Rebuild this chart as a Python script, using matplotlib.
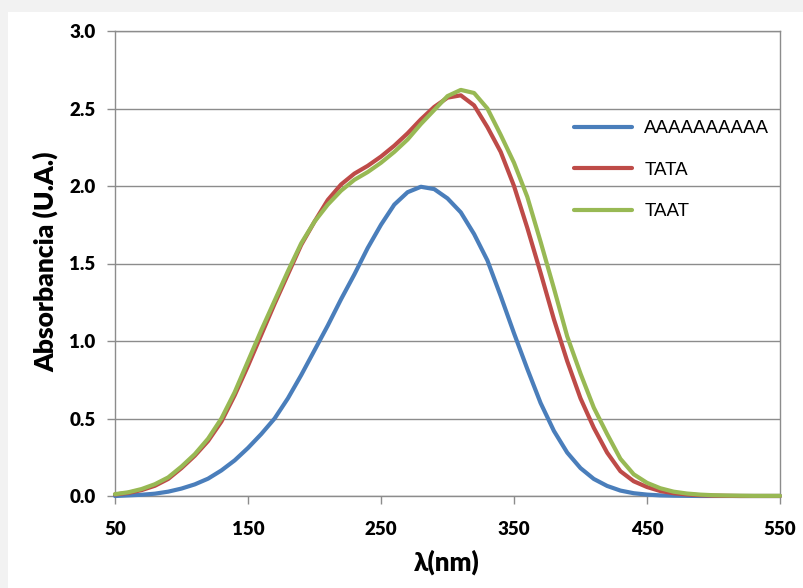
import matplotlib
matplotlib.use("Agg")
import matplotlib.pyplot as plt
from matplotlib.patches import Rectangle

# Wavelength grid (nm) and absorbance of each sequence
wavelength = list(range(50, 551, 10))

abs_aaaa = [0.000, 0.004, 0.008, 0.015, 0.028, 0.048, 0.075, 0.112, 0.165, 0.230,
            0.310, 0.400, 0.500, 0.630, 0.780, 0.940, 1.100, 1.270, 1.430, 1.600,
            1.750, 1.880, 1.960, 1.995, 1.980, 1.920, 1.830, 1.690, 1.520, 1.290,
            1.050, 0.820, 0.600, 0.420, 0.280, 0.180, 0.110, 0.065, 0.035, 0.018,
            0.009, 0.004, 0.002, 0.001, 0.000, 0.000, 0.000, 0.000, 0.000, 0.000,
            0.000]

abs_tata = [0.010, 0.020, 0.038, 0.066, 0.110, 0.180, 0.260, 0.355, 0.480, 0.650,
            0.840, 1.040, 1.240, 1.430, 1.620, 1.770, 1.910, 2.010, 2.080, 2.130,
            2.190, 2.260, 2.340, 2.430, 2.510, 2.570, 2.585, 2.520, 2.380, 2.220,
            2.000, 1.730, 1.440, 1.140, 0.870, 0.630, 0.440, 0.280, 0.160, 0.095,
            0.058, 0.032, 0.018, 0.010, 0.005, 0.002, 0.001, 0.000, 0.000, 0.000,
            0.000]

abs_taat = [0.012, 0.024, 0.045, 0.076, 0.120, 0.190, 0.270, 0.370, 0.500, 0.670,
            0.870, 1.070, 1.260, 1.450, 1.630, 1.770, 1.880, 1.970, 2.040, 2.090,
            2.150, 2.220, 2.300, 2.400, 2.490, 2.580, 2.620, 2.600, 2.500, 2.330,
            2.150, 1.930, 1.640, 1.340, 1.030, 0.790, 0.570, 0.400, 0.240, 0.140,
            0.085, 0.050, 0.028, 0.016, 0.009, 0.005, 0.003, 0.002, 0.001, 0.001,
            0.001]

series_labels = ["AAAAAAAAAA", "TATA", "TAAT"]
series_colors = ["#4A7EBB", "#BE4B48", "#98B954"]

x_ticks = [50, 150, 250, 350, 450, 550]
y_ticks = [0.0, 0.5, 1.0, 1.5, 2.0, 2.5, 3.0]

W, H = 804, 588
fig = plt.figure(figsize=(W / 100, H / 100), dpi=100)
fig.patch.set_facecolor("#f2f2f2")
# white chart area inside the light grey border
fig.add_artist(Rectangle((8 / W, 0), 1, 1 - 12 / H, transform=fig.transFigure,
                         facecolor="white", edgecolor="none", zorder=-5))

ax = fig.add_axes([115 / W, 92 / H, 665 / W, 465 / H])
ax.set_zorder(2)
ax.set_facecolor("white")

for ys, lab, col in zip([abs_aaaa, abs_tata, abs_taat], series_labels, series_colors):
    ax.plot(wavelength, ys, color=col, lw=3.0, label=lab, clip_on=False,
            solid_capstyle="round", solid_joinstyle="round", zorder=3)

ax.set_xlim(50, 550)
ax.set_ylim(0, 3.0)
ax.set_xticks(x_ticks)
ax.set_yticks(y_ticks)
ax.set_yticklabels([f"{v:.1f}" for v in y_ticks])

ax.grid(axis="y", color="#8c8c8c", lw=1.0)
ax.set_axisbelow(True)
for s in ax.spines.values():
    s.set_color("#8c8c8c")
    s.set_linewidth(1.0)

label_family = ["Lato", "DejaVu Sans"]
ax.tick_params(axis="both", direction="out", length=6, color="#8c8c8c", width=1.0,
               labelcolor="black")
ax.tick_params(axis="y", pad=8)
ax.tick_params(axis="x", pad=12)
for lbl in ax.get_xticklabels() + ax.get_yticklabels():
    lbl.set_fontfamily(label_family)
    lbl.set_fontweight("heavy")
    lbl.set_fontsize(13.5)

fig.text(447 / W, 1 - 562 / H, "λ(nm)", ha="center", va="center",
         family=label_family, weight="heavy", size=18.5)
fig.text(46 / W, 1 - 262 / H, "Absorbancia (U.A.)", ha="center", va="center",
         rotation=90, family=label_family, weight="heavy", size=19)

ax.legend(loc="upper left", bbox_to_anchor=((574 - 115) / 665, (496 - 120) / 465),
          frameon=False, prop={"family": ["Liberation Sans", "DejaVu Sans"], "size": 13.5},
          handlelength=3.1, handletextpad=0.65, labelspacing=1.3, borderaxespad=0,
          borderpad=0)

fig.savefig("out.png", dpi=100, facecolor=fig.get_facecolor())
